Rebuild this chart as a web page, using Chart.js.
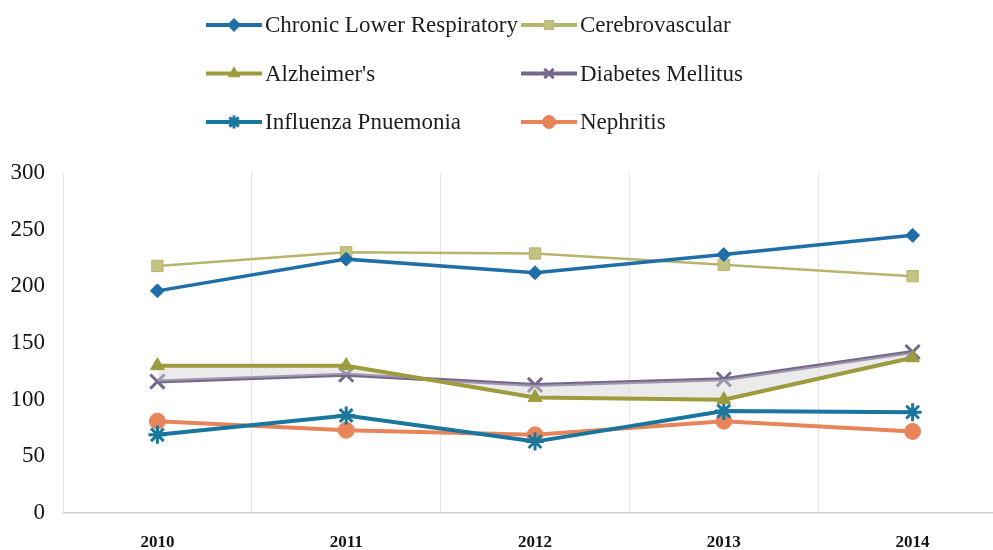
<!DOCTYPE html>
<html>
<head>
<meta charset="utf-8">
<script src="https://cdn.jsdelivr.net/npm/chart.js@4/dist/chart.umd.min.js"></script>
<style>
  html, body { margin: 0; padding: 0; background: #fff; overflow: hidden; }
  /* canvas is a bit wider than the window: the plot runs past the right edge like the source */
  #wrap { width: 1020px; height: 550px; }
</style>
</head>
<body>
<div id="wrap"><canvas id="deathChart" width="1020" height="550"></canvas></div>
<script>
const years = ["2010", "2011", "2012", "2013", "2014"];
const yTicks = [0, 50, 100, 150, 200, 250, 300];

const chronicLower = [196, 224, 212, 228, 245];
const cerebrovascular = [218, 230, 229, 219, 209];
const alzheimers = [130, 130, 102, 100, 137];
const diabetes = [116, 122, 113, 118, 142];
const influenza = [69, 86, 63, 90, 89];
const nephritis = [81, 73, 69, 81, 72];

const FONT = "'Liberation Serif', 'DejaVu Serif', serif";

function series(label, data, color, style, radius, width, fill) {
    return {
        label: label,
        data: data,
        borderColor: color,
        borderWidth: width,
        pointStyle: style,
        pointRadius: radius,
        pointBackgroundColor: fill || color,
        pointBorderColor: color,
        pointBorderWidth: (style === "crossRot" || style === "star") ? 3 : 1,
        tension: 0,
        fill: false
    };
}

const datasets = [
    series("Chronic Lower Respiratory", chronicLower, "#1f6ea8", "rectRot", 7, 3.5),
    series("Cerebrovascular", cerebrovascular, "#b5b56c", "rect", 8, 2.5, "#c2c283"),
    series("Alzheimer's", alzheimers, "#9c9c3e", "triangle", 8, 4),
    series("Diabetes Mellitus", diabetes, "#76688c", "crossRot", 10, 4),
    series("Influenza Pnuemonia", influenza, "#18769f", "star", 9, 4),
    series("Nephritis", nephritis, "#e8845a", "circle", 8, 4)
];
// light band between Alzheimer's and Diabetes
datasets[2].fill = { target: 3 };
datasets[2].backgroundColor = "rgba(210,210,210,0.45)";

const legendGrid = {
    id: "legendGrid",
    afterDraw(chart) {
        const ctx = chart.ctx;
        chart.data.datasets.forEach((ds, i) => {
            const col = i % 2;
            const row = Math.floor(i / 2);
            const x0 = col ? 521 : 206;
            const y = 25 + row * 48.5;
            ctx.save();
            ctx.strokeStyle = ds.borderColor;
            ctx.lineWidth = 4;
            ctx.beginPath();
            ctx.moveTo(x0, y);
            ctx.lineTo(x0 + 56, y);
            ctx.stroke();
            ctx.fillStyle = ds.pointBackgroundColor;
            ctx.strokeStyle = ds.pointBorderColor;
            ctx.lineWidth = ds.pointBorderWidth;
            Chart.helpers.drawPoint(ctx, {
                pointStyle: ds.pointStyle,
                radius: 6.5,
                rotation: 0,
                borderWidth: ds.pointBorderWidth
            }, x0 + 28, y);
            ctx.fillStyle = "#1e1e1e";
            ctx.font = "23px " + FONT;
            ctx.textBaseline = "middle";
            ctx.textAlign = "left";
            ctx.fillText(ds.label, x0 + 59, y + 1);
            ctx.restore();
        });
    }
};

new Chart(document.getElementById("deathChart"), {
    type: "line",
    data: { labels: years, datasets: datasets },
    plugins: [legendGrid],
    options: {
        responsive: false,
        animation: false,
        devicePixelRatio: 1,
        layout: { padding: { top: 173, right: 0, bottom: 0, left: 0 } },
        plugins: {
            legend: { display: false },
            tooltip: { enabled: false }
        },
        scales: {
            x: {
                offset: true,
                grid: { offset: true, color: "#e4e4e4", lineWidth: 1, drawTicks: false },
                border: { color: "#d2d2d2", width: 1.5 },
                ticks: {
                    color: "#141414",
                    padding: 19,
                    font: { family: FONT, size: 17, weight: "bold" }
                },
                afterFit(scale) { scale.height = 37; }
            },
            y: {
                min: 0,
                max: 300,
                afterBuildTicks(scale) {
                    scale.ticks = yTicks.map(v => ({ value: v }));
                },
                grid: { display: false, drawTicks: false },
                border: { color: "#e4e4e4", width: 1 },
                ticks: {
                    color: "#141414",
                    padding: 18,
                    font: { family: FONT, size: 23 }
                },
                afterFit(scale) { scale.width = 63; }
            }
        }
    }
});
</script>
</body>
</html>
